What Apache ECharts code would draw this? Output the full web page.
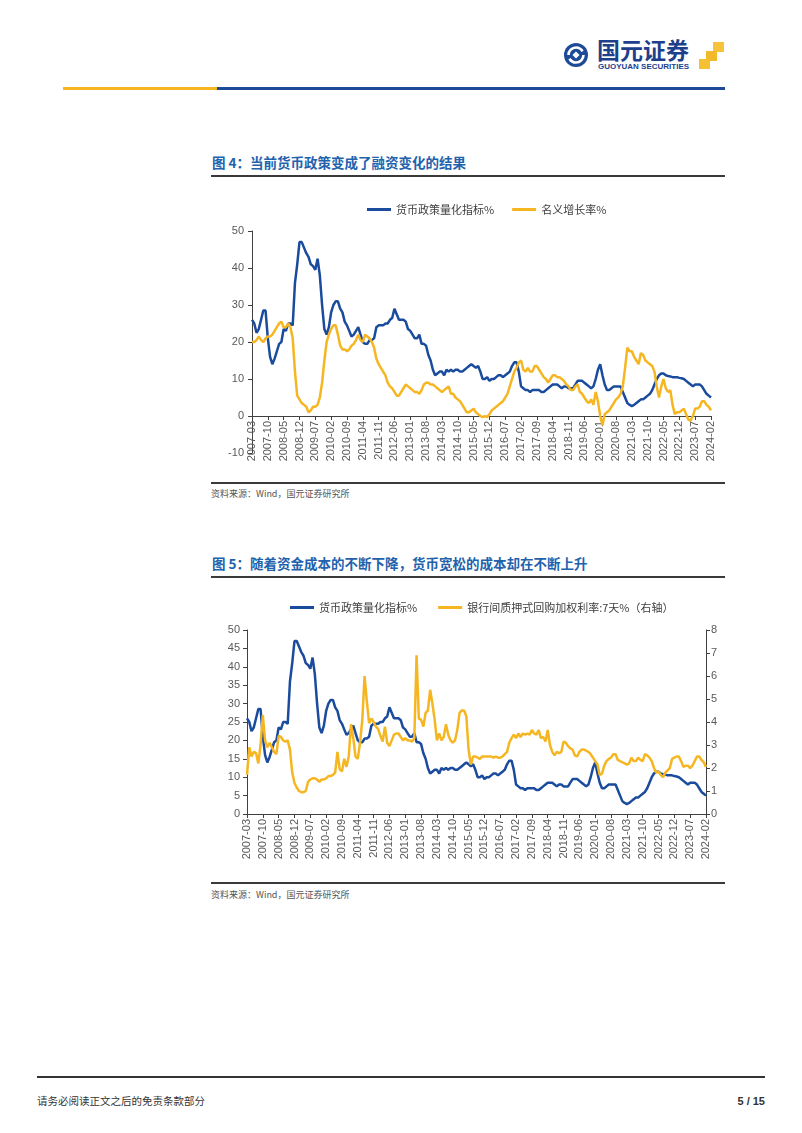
<!DOCTYPE html>
<html>
<head>
<meta charset="utf-8">
<script src="https://cdn.jsdelivr.net/npm/echarts@6/dist/echarts.min.js"></script>
<style>
  body {
    margin: 0;
    width: 802px;
    height: 1133px;
    position: relative;
    background: #fff;
    overflow: hidden;
    font-family: "Noto Sans CJK SC", sans-serif;
  }
  .abs { position: absolute; }
  .title {
    left: 212px;
    font-size: 13.5px;
    font-weight: bold;
    line-height: 16px;
    color: #2262ad;
    white-space: nowrap;
  }
  .rule { left: 211px; width: 514px; height: 2px; background: #3a3a3a; }
  .source { left: 211px; font-size: 9px; line-height: 12px; color: #555; white-space: nowrap; }
  .chart { left: 200px; width: 540px; height: 290px; }
</style>
</head>
<body>
  <!-- header -->
  <svg class="abs" style="left:560px;top:34px" width="170" height="40">
    <circle cx="16" cy="21" r="12" fill="#1e4a98"/>
    <circle cx="16" cy="21" r="7.5" fill="none" stroke="#fff" stroke-width="2.6" stroke-dasharray="19.5 4"/>
    <rect x="13.5" y="18.5" width="5" height="5" fill="#fff" transform="rotate(45 16 21)"/>
    <rect x="153" y="8" width="11" height="10" fill="#f6c33a"/>
    <rect x="146" y="17" width="11" height="10" fill="#f2b92a"/>
    <rect x="139" y="25" width="11" height="10" fill="#f5c032"/>
  </svg>
  <div class="abs" style="left:597px;top:37px;font-size:23px;line-height:24px;font-weight:bold;color:#1e3f8c">国元证券</div>
  <div class="abs" style="left:598px;top:62px;font-family:'Liberation Sans';font-size:8px;line-height:10px;font-weight:bold;color:#1e3f8c">GUOYUAN SECURITIES</div>
  <div class="abs" style="left:63px;top:87px;width:154px;height:3px;background:#f5b622"></div>
  <div class="abs" style="left:217px;top:87px;width:508px;height:3px;background:#1e4a98"></div>

  <!-- figure 4 -->
  <div class="abs title" style="top:154px">图 4：当前货币政策变成了融资变化的结果</div>
  <div class="abs rule" style="top:175px"></div>
  <div id="chart-growth" class="abs chart" style="top:190px"></div>
  <div class="abs rule" style="top:482px"></div>
  <div class="abs source" style="top:488px">资料来源：Wind，国元证券研究所</div>

  <!-- figure 5 -->
  <div class="abs title" style="top:555px">图 5：随着资金成本的不断下降，货币宽松的成本却在不断上升</div>
  <div class="abs rule" style="top:576px"></div>
  <div id="chart-repo" class="abs chart" style="top:590px"></div>
  <div class="abs rule" style="top:882px"></div>
  <div class="abs source" style="top:889px">资料来源：Wind，国元证券研究所</div>

  <!-- footer -->
  <div class="abs" style="left:37px;top:1076px;width:728px;height:2px;background:#333"></div>
  <div class="abs" style="left:37px;top:1094px;font-size:10.5px;line-height:14px;color:#333">请务必阅读正文之后的免责条款部分</div>
  <div class="abs" style="right:37px;top:1094px;font-family:'Liberation Sans';font-size:11px;line-height:14px;font-weight:bold;color:#333">5 / 15</div>

<script>
// monthly, 2007-03 .. 2024-02
const months = []
for (let y = 2007; y <= 2024; y++) {
  for (let m = 1; m <= 12; m++) {
    if ((y === 2007 && m < 3) || (y === 2024 && m > 2)) continue
    months.push(y + '-' + String(m).padStart(2, '0'))
  }
}

// 货币政策量化指标%
const policyIndex = [
  26, 25, 22.5, 23.5, 26, 28.5, 28.5, 21, 16, 14,
  15.5, 17.5, 19.5, 20, 23.5, 23, 25, 25, 24.5, 36,
  41, 47, 47, 45.5, 44, 43, 41, 40.5, 39.5, 42.5,
  38, 30, 23.5, 22, 24, 28, 30, 31, 31, 29,
  28, 25.5, 24.5, 23, 21.5, 22, 23, 24, 22, 20,
  19.5, 19.5, 20.5, 20.5, 21, 24, 24.5, 24.5, 24.5, 25,
  25, 26, 26.5, 29, 27.5, 26, 26, 26, 25.5, 23.5,
  23, 22, 21, 21, 22, 19.5, 19.5, 19, 16.5, 15,
  12.5, 11, 11.5, 12, 12, 11, 12.5, 12, 12.5, 12,
  12.5, 12.5, 12, 12, 12.5, 13, 13.5, 14, 13.5, 13,
  13.5, 12, 10, 10, 10.5, 9.5, 10, 10, 10.5, 11,
  11, 10.5, 11, 11.5, 12, 13.5, 14.5, 14.5, 12, 8,
  7.5, 7, 7, 6.5, 7, 7, 7, 7, 6.5, 6.5,
  7, 7.5, 8, 8.5, 8.5, 8.5, 8, 7.5, 8, 8,
  7.5, 7.5, 7.5, 8.5, 9.5, 9.5, 9.5, 9, 8.5, 8,
  7.5, 8, 10, 12.5, 14, 11, 8.5, 7, 7, 7.5,
  8, 8, 8, 8, 6.5, 5, 3.5, 3, 2.7, 3,
  3.5, 4, 4.5, 4.5, 5, 5.5, 6, 7, 8.5, 10,
  11, 11.5, 11.5, 11, 10.8, 10.7, 10.5, 10.5, 10.5, 10.3,
  10.2, 10, 9.5, 9, 8.5, 8, 8.5, 8.5, 8.5, 8,
  7, 6, 5.5, 5
]

// 名义增长率%
const nominalGrowth = [
  20, 20, 20.5, 21.5, 20.5, 20, 21, 21.5, 21.5, 22,
  23, 24, 25, 25.5, 24, 24, 25, 24, 21, 12,
  5.5, 4.5, 3.5, 3, 2.5, 1, 1.5, 2.5, 2.5, 3,
  5, 9, 15, 20, 22, 23.5, 24.5, 24.5, 22, 19,
  18, 18, 17.5, 18, 19, 19.5, 20.5, 22, 20.5, 20,
  22, 21.5, 21, 20, 18.5, 15.5, 14, 13, 12, 11,
  9, 8, 7.5, 6.5, 5.5, 5.5, 6.5, 7.5, 8.5, 8,
  7.5, 7, 6.5, 6.5, 6, 7, 8.5, 9, 9, 8.5,
  8.5, 8, 7.5, 7, 6.5, 7, 7.5, 8, 6, 6,
  5, 4.5, 4, 3, 2, 1, 1, 1.5, 2, 1,
  0.5, 0, -0.3, 0, -0.3, 0.5, 1.5, 2, 2.5, 3,
  3.5, 4, 5, 6, 8, 10, 12, 13, 14.5, 15,
  12.5, 12, 13, 12, 12, 13.5, 13.5, 12.5, 11.5, 10.5,
  10, 9, 10, 11, 11, 10.5, 10.5, 10, 9.5, 8.5,
  8, 7, 7, 8, 8.5, 6.5, 6, 5, 4, 3.5,
  4.5, 3, 6.5, 4, 0, -2.5, 0.5, 1, 1.5, 2.5,
  3.5, 4.5, 5, 6, 8, 13, 18.5, 17.5, 17.5, 16,
  15, 14, 17, 16.5, 15, 14.5, 14, 13.5, 12, 8,
  5, 8, 10, 7.5, 6.5, 7, 3, 0.5, 1, 1,
  1.5, 2, 0.5, -1, -1.2, 0, 2, 2, 2.5, 4,
  4, 3, 2.5, 1.5
]

// 银行间质押式回购加权利率:7天%（右轴）
const repoRate7d = [
  1.7, 2.9, 2.5, 2.7, 2.65, 2.2, 3.0, 4.3, 3.2, 2.9,
  3.1, 2.9, 2.7, 2.6, 3.4, 3.35, 3.2, 3.15, 3.2, 2.8,
  1.8, 1.35, 1.15, 1.0, 0.95, 0.95, 1.0, 1.4, 1.5, 1.55,
  1.55, 1.5, 1.4, 1.5, 1.5, 1.55, 1.65, 1.65, 1.7, 1.8,
  2.7, 1.95, 1.85, 2.4, 2.05, 2.5, 3.9, 3.3, 2.5, 2.4,
  3.1, 4.1, 6.0, 4.9, 3.95, 4.15, 4.0, 3.8, 3.7, 3.4,
  3.15, 3.8, 3.1, 2.95, 3.2, 3.45, 3.5, 3.5, 3.35, 3.2,
  3.3, 3.2, 3.2, 3.15, 3.3, 6.9, 4.15, 4.1, 3.8, 4.4,
  4.5, 5.4, 4.8, 4.1, 3.2, 3.5, 3.2, 3.35, 3.9, 3.45,
  3.2, 3.1, 3.2, 3.65, 4.4, 4.5, 4.5, 4.25, 2.8, 2.15,
  2.5, 2.5, 2.45, 2.4, 2.5, 2.5, 2.5, 2.5, 2.5, 2.45,
  2.5, 2.45, 2.45, 2.5, 2.6, 2.7, 3.1, 3.3, 3.45, 3.3,
  3.5, 3.35, 3.5, 3.45, 3.5, 3.45, 3.65, 3.5, 3.45, 3.65,
  3.3, 3.35, 3.15, 3.65, 3.0, 2.7, 2.55, 2.7, 2.65, 2.7,
  3.15, 3.1, 2.95, 2.85, 2.8, 2.55, 2.5, 2.7, 2.8, 2.8,
  2.75, 2.7, 2.6, 2.45, 2.3, 2.15, 1.7, 1.75, 2.1, 2.3,
  2.4, 2.45, 2.6, 2.6, 2.35, 2.3, 2.25, 2.2, 2.15, 2.2,
  2.45, 2.3, 2.3, 2.45, 2.35, 2.3, 2.6, 2.55, 2.45, 2.3,
  2.0, 1.8, 1.85, 1.7, 1.6, 1.8, 1.9, 2.0, 2.4, 2.45,
  2.5, 2.5, 2.3, 2.05, 2.1, 2.1, 2.0, 2.1, 2.3, 2.5,
  2.5, 2.35, 2.25, 2.05
]

const BLUE = '#1a4b9c'
const YELLOW = '#f5b622'
const axisColor = '#404040'
const labelStyle = { fontSize: 11, color: '#595959', fontFamily: 'Liberation Sans' }
const legendText = { fontSize: 11, color: '#404040', fontFamily: 'Noto Sans CJK SC' }

// offset lifts the month axis up onto the zero line when the value axis goes negative
function monthAxis (offset) {
  return {
    type: 'category',
    data: months,
    boundaryGap: false,
    offset: offset || 0,
    axisLine: { onZero: false, lineStyle: { color: axisColor, width: 1 } },
    axisTick: { interval: 6, length: 4, lineStyle: { color: axisColor } },
    axisLabel: Object.assign({ interval: 6, rotate: 90, margin: 5 }, labelStyle)
  }
}

function valueAxis (min, max, step, margin, pos) {
  return {
    type: 'value',
    position: pos,
    min: min,
    max: max,
    interval: step,
    axisLine: { show: true, lineStyle: { color: axisColor, width: 1 } },
    axisTick: { show: true, length: 4, lineStyle: { color: axisColor } },
    splitLine: { show: false },
    axisLabel: Object.assign({ margin: margin }, labelStyle)
  }
}

function lineSeries (name, data, color, yIndex) {
  return {
    name: name,
    type: 'line',
    data: data,
    yAxisIndex: yIndex || 0,
    symbol: 'none',
    lineStyle: { width: 2.5, color: color },
    itemStyle: { color: color }
  }
}

const growthMin = -10
const growthMax = 50
const growthGridH = 222

const growthChart = echarts.init(document.getElementById('chart-growth'))
growthChart.setOption({
  animation: false,
  legend: {
    left: 162,
    top: 9,
    icon: 'rect',
    itemWidth: 24,
    itemHeight: 3,
    itemGap: 18,
    textStyle: legendText
  },
  grid: { left: 52, top: 41, width: 459, height: growthGridH, outerBoundsMode: 'none' },
  xAxis: monthAxis(-growthGridH * (0 - growthMin) / (growthMax - growthMin)),
  yAxis: valueAxis(growthMin, growthMax, 10, 8),
  series: [
    lineSeries('货币政策量化指标%', policyIndex, BLUE),
    lineSeries('名义增长率%', nominalGrowth, YELLOW)
  ]
})

const repoChart = echarts.init(document.getElementById('chart-repo'))
repoChart.setOption({
  animation: false,
  legend: {
    left: 85,
    top: 7,
    icon: 'rect',
    itemWidth: 24,
    itemHeight: 3,
    itemGap: 21,
    textStyle: legendText
  },
  grid: { left: 47, top: 40, width: 459, height: 184, outerBoundsMode: 'none' },
  xAxis: monthAxis(0),
  yAxis: [
    valueAxis(0, 50, 5, 7, 'left'),
    valueAxis(0, 8, 1, 5, 'right')
  ],
  series: [
    lineSeries('货币政策量化指标%', policyIndex, BLUE),
    lineSeries('银行间质押式回购加权利率:7天%（右轴）', repoRate7d, YELLOW, 1)
  ]
})
</script>
</body>
</html>
